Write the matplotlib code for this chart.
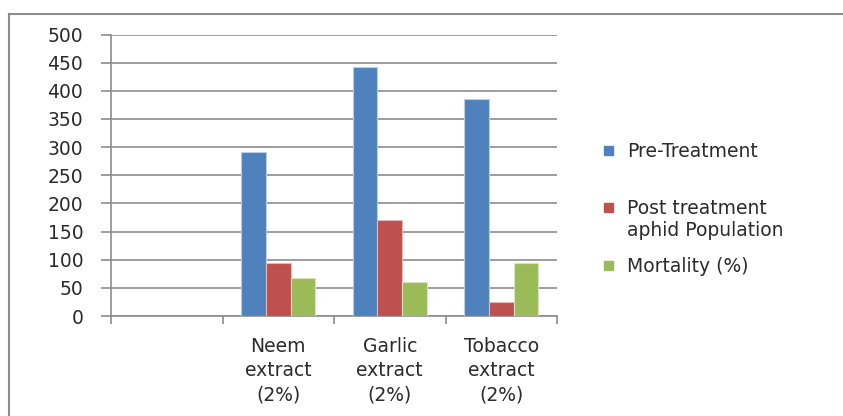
import matplotlib
matplotlib.use("Agg")
import matplotlib.pyplot as plt
from matplotlib.patches import Rectangle
from matplotlib.lines import Line2D
import numpy as np

categories = ["", "Neem\nextract\n(2%)", "Garlic\nextract\n(2%)", "Tobacco\nextract\n(2%)"]
series_names = ["Pre-Treatment", "Post treatment\naphid Population", "Mortality (%)"]
pre_treatment = [0, 291, 442, 386]
post_treatment = [0, 95, 171, 24]
mortality = [0, 67, 61, 94]
y_ticks = [0, 50, 100, 150, 200, 250, 300, 350, 400, 450, 500]

colors = ["#4F81BD", "#C0504D", "#9BBB59"]
edges = ["#B9CDE5", "#E6B9B8", "#D7E4BD"]
grid_color = "#8C8C8C"
text_color = "#2B2B2B"
fs = 13.5

W, H = 843, 416
fig = plt.figure(figsize=(W / 100, H / 100), dpi=100)

# outer chart-area frame (runs off the right and bottom edges)
fig.add_artist(Line2D([9 / W, 1.0], [1 - 14 / H, 1 - 14 / H], transform=fig.transFigure,
                      color="#8C8C8C", lw=1.5))
fig.add_artist(Line2D([9 / W, 9 / W], [0.0, 1 - 14 / H], transform=fig.transFigure,
                      color="#8C8C8C", lw=1.5))

ax = fig.add_axes([111 / W, 1 - 316 / H, (557 - 111) / W, (316 - 34.5) / H])

n = len(categories)
x = np.arange(n)
bw = 1 / 4.5  # three bars plus a 150% gap
offsets = [-bw, 0, bw]
for vals, off, c, ec in zip([pre_treatment, post_treatment, mortality], offsets, colors, edges):
    mask = np.array(vals) > 0
    ax.bar(x[mask] + off, np.array(vals)[mask], width=bw, color=c, edgecolor=ec,
           linewidth=0.8, zorder=3)

ax.set_xlim(-0.5, n - 0.5)
ax.set_ylim(0, 500)
ax.set_yticks(y_ticks)
ax.set_yticklabels([str(t) for t in y_ticks], fontsize=fs, color=text_color)
ax.yaxis.grid(True, color=grid_color, lw=1.2, zorder=0)
ax.set_axisbelow(True)

ax.set_xticks(np.arange(n))
ax.set_xticklabels(categories, fontsize=fs, color=text_color, linespacing=1.35)
ax.set_xticks(np.arange(n + 1) - 0.5, minor=True)
ax.tick_params(axis="x", which="major", length=0, pad=15)
ax.tick_params(axis="x", which="minor", length=6, width=1.2, color=grid_color)
ax.tick_params(axis="y", length=7, width=1.2, color=grid_color, pad=13)

for s in ["top", "right"]:
    ax.spines[s].set_visible(False)
for s in ["left", "bottom"]:
    ax.spines[s].set_color(grid_color)
    ax.spines[s].set_linewidth(1.2)

# legend entries
legend_rows = [150, 207, 265]
for name, c, yy in zip(series_names, colors, legend_rows):
    fig.add_artist(Rectangle((604 / W, 1 - (yy + 4.5) / H), 9 / W, 9 / H,
                             transform=fig.transFigure, color=c))
    fig.text(627 / W, 1 - (yy - 8) / H, name, fontsize=fs, color=text_color,
             va="top", ha="left", linespacing=1.2)

fig.savefig("out.png", dpi=100)
